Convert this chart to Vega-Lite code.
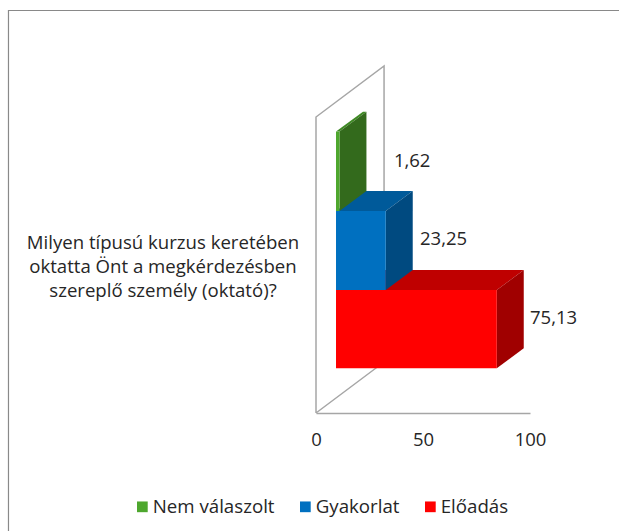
{"$schema":"https://vega.github.io/schema/vega-lite/v6.json","width":214,"height":347,"autosize":"none","padding":{"left":316,"top":66,"right":89,"bottom":118},"background":"white","view":{"stroke":null},
"datasets":{
"frame":[{"x":-143.7,"y":-34,"o":1},{"x":-143.7,"y":116,"o":2},{"x":141.6,"y":116,"o":3}],
"wall":[{"x":0,"y":0,"o":1},{"x":0,"y":85.3,"o":2},{"x":31.8,"y":100,"o":3},{"x":31.8,"y":14.7,"o":4},{"x":0,"y":0,"o":5}],
"tops":[
{"series":"Előadás","x":9.35,"x2":84.48,"y":35.45},{"series":"Előadás","x":21.95,"x2":97.08,"y":41.2},
{"series":"Gyakorlat","x":9.35,"x2":32.6,"y":58.2},{"series":"Gyakorlat","x":21.95,"x2":45.2,"y":64},
{"series":"Nem válaszolt","x":9.35,"x2":10.97,"y":81.1},{"series":"Nem válaszolt","x":21.95,"x2":23.57,"y":86.8}],
"sides":[
{"series":"Előadás","x":84.48,"y":35.45,"y2":12.9},{"series":"Előadás","x":97.08,"y":41.2,"y2":18.65},
{"series":"Gyakorlat","x":32.6,"y":58.2,"y2":35.45},{"series":"Gyakorlat","x":45.2,"y":64,"y2":41.2},
{"series":"Nem válaszolt","x":10.97,"y":81.1,"y2":58.2},{"series":"Nem válaszolt","x":23.57,"y":86.8,"y2":64}],
"bars":[
{"series":"Nem válaszolt","start":9.35,"end":10.97,"y":81.1,"y2":58.2,"label":"1,62","lx":36.4,"ly":72.7},
{"series":"Gyakorlat","start":9.35,"end":32.6,"y":58.2,"y2":35.45,"label":"23,25","lx":48.6,"ly":50.2},
{"series":"Előadás","start":9.35,"end":84.48,"y":35.45,"y2":12.9,"label":"75,13","lx":100,"ly":27.5}],
"cat":[{"text":"Milyen típusú kurzus keretében\noktatta Önt a megkérdezésben\nszereplő személy (oktató)?","x":-71.5,"y":48.9}]
},
"data":{"name":"bars"},
"layer":[
{"data":{"name":"frame"},"mark":{"type":"line","color":"#898989","strokeWidth":1.2,"clip":false},"encoding":{"x":{"field":"x","type":"quantitative","scale":{"domain":[0,100],"nice":false,"zero":false},"axis":{"values":[0,50,100],"title":null,"grid":false,"ticks":false,"domainColor":"#A6A6A6","domainWidth":1.5,"labelFontSize":18.5,"labelFont":"Open Sans","labelColor":"#262626","labelPadding":17,"labelFlush":false,"labelOverlap":false}},"y":{"field":"y","type":"quantitative","scale":{"domain":[0,100],"nice":false,"zero":false},"axis":null},"order":{"field":"o"}}},
{"data":{"name":"wall"},"mark":{"type":"line","color":"#A6A6A6","strokeWidth":1.5,"clip":false},"encoding":{"x":{"field":"x","type":"quantitative"},"y":{"field":"y","type":"quantitative"},"order":{"field":"o"}}},
{"data":{"name":"tops"},"mark":{"type":"area","orient":"horizontal"},"encoding":{"x":{"field":"x","type":"quantitative"},"x2":{"field":"x2"},"y":{"field":"y","type":"quantitative"},"color":{"field":"series","type":"nominal","scale":{"domain":["Nem válaszolt","Gyakorlat","Előadás"],"range":["#3F8A25","#005A9A","#BF0000"]},"legend":null}}},
{"data":{"name":"sides"},"mark":{"type":"area","orient":"vertical"},"encoding":{"x":{"field":"x","type":"quantitative"},"y":{"field":"y","type":"quantitative"},"y2":{"field":"y2"},"color":{"field":"series","type":"nominal","scale":{"domain":["Nem válaszolt","Gyakorlat","Előadás"],"range":["#336A1C","#004A80","#A00000"]},"legend":null}}},
{"mark":{"type":"rect"},"encoding":{"x":{"field":"start","type":"quantitative"},"x2":{"field":"end"},"y":{"field":"y","type":"quantitative"},"y2":{"field":"y2"},"color":{"field":"series","type":"nominal","scale":{"domain":["Nem válaszolt","Gyakorlat","Előadás"],"range":["#4EA72E","#0070C0","#FF0000"]},"legend":{"title":null,"orient":"none","legendX":-183,"legendY":431,"direction":"horizontal","columns":3,"symbolType":"square","symbolSize":115,"labelFontSize":18.7,"labelFont":"Open Sans","labelColor":"#262626","columnPadding":21,"labelOffset":1}}}},
{"mark":{"type":"text","align":"left","baseline":"middle","fontSize":18.5,"font":"Open Sans","color":"#262626"},"encoding":{"x":{"field":"lx","type":"quantitative"},"y":{"field":"ly","type":"quantitative"},"text":{"field":"label"}}},
{"data":{"name":"cat"},"mark":{"type":"text","align":"center","baseline":"middle","lineBreak":"\n","lineHeight":24,"fontSize":18.6,"font":"Open Sans","color":"#262626"},"encoding":{"x":{"field":"x","type":"quantitative"},"y":{"field":"y","type":"quantitative"},"text":{"field":"text"}}}
],
"resolve":{"scale":{"color":"independent"}}}
